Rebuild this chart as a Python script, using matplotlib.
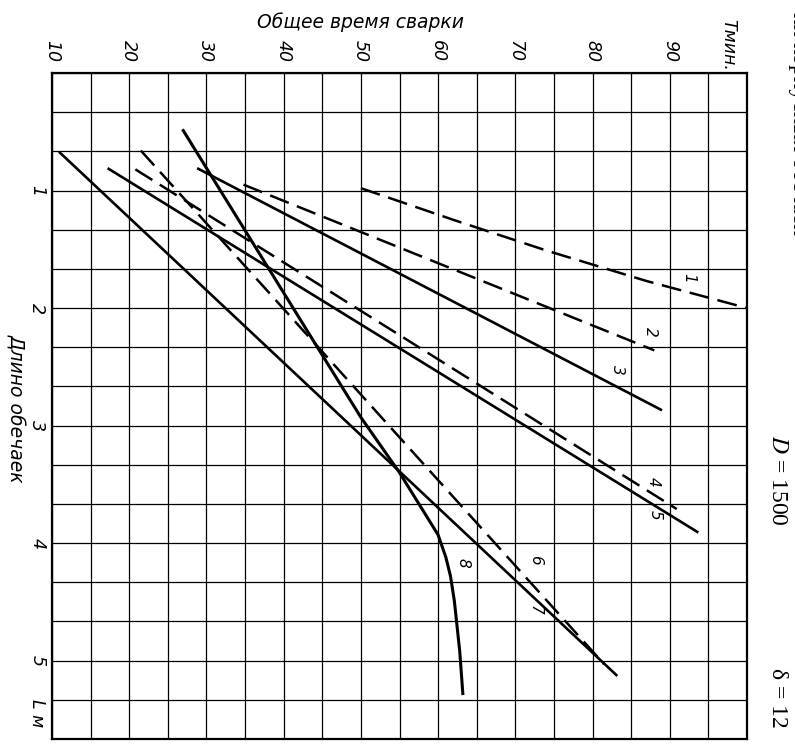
import matplotlib.pyplot as plt
import numpy as np

# шкалы
time_ticks = [10, 20, 30, 40, 50, 60, 70, 80, 90]
length_ticks = [1, 2, 3, 4, 5]

# кривые: общее время сварки T (мин) и длина обечаек L (м)
c1_T = [50, 62, 74, 87, 100]
c1_L = [0.98, 1.25, 1.51, 1.77, 2.0]
c2_T = [34.8, 88]
c2_L = [0.95, 2.36]
c3_T = [28.8, 89]
c3_L = [0.81, 2.87]
c4_T = [20.8, 90.9]
c4_L = [0.82, 3.71]
c5_T = [17.2, 93.7]
c5_L = [0.81, 3.91]
c6_T = [21.5, 81.5]
c6_L = [0.66, 5.03]
c7_T = [10.9, 83.2]
c7_L = [0.67, 5.13]
c8_T = [27, 40, 50, 55, 60, 61, 61.6, 62.1, 62.8, 63.2]
c8_L = [0.49, 1.87, 2.93, 3.4, 3.93, 4.12, 4.28, 4.49, 4.92, 5.28]

curve_names = ['1', '2', '3', '4', '5', '6', '7', '8']
label_T = [92.5, 87.5, 83.2, 87.9, 88.1, 72.6, 72.6, 63.2]
label_L = [1.74, 2.2, 2.53, 3.48, 3.76, 4.14, 4.57, 4.17]

fig = plt.figure(figsize=(7.95, 7.44), dpi=100)
ax = fig.add_axes([52 / 795, 1 - 739 / 744, 695 / 795, 666 / 744])
ax.set_xlim(10, 100)
ax.set_ylim(17 / 3, 0)
ax.set_xticks(np.arange(10, 101, 5))
ax.set_yticks(np.arange(0, 18) / 3)
ax.grid(True, color='black', lw=0.9)
ax.tick_params(length=0, labelbottom=False, labelleft=False)
for s in ax.spines.values():
    s.set_linewidth(1.6)

dashed = dict(color='black', lw=1.8, dashes=(8, 3.5))
solid = dict(color='black', lw=1.9, solid_capstyle='butt')

ax.plot(c1_T, c1_L, **dashed)
ax.plot(c2_T, c2_L, **dashed)
ax.plot(c3_T, c3_L, **solid)
ax.plot(c4_T, c4_L, **dashed)
ax.plot(c5_T, c5_L, **solid)
ax.plot(c6_T, c6_L, **dashed)
ax.plot(c7_T, c7_L, **solid)
ax.plot(c8_T, c8_L, color='black', lw=2.2)

for name, t, l in zip(curve_names, label_T, label_L):
    ax.text(t, l, name, rotation=-90, ha='center', va='center',
            fontsize=11, style='italic')

# подписи шкал
for t in time_ticks:
    ax.text(t, -0.19, str(t), rotation=-90, ha='center', va='center',
            fontsize=12.5, style='italic', clip_on=False)
ax.text(97.6, -0.24, 'Tмин.', rotation=-90, ha='center', va='center',
        fontsize=12.5, style='italic', clip_on=False)
for l in length_ticks:
    ax.text(8.1, l, str(l), rotation=-90, ha='center', va='center',
            fontsize=12.5, style='italic', clip_on=False)
ax.text(8.1, 5.45, 'L м', rotation=-90, ha='center', va='center',
        fontsize=12.5, style='italic', clip_on=False)

ax.text(50, -0.43, 'Общее время сварки', ha='center', va='center',
        fontsize=13.5, style='italic', clip_on=False)
ax.text(5.3, 2.85, 'Длино обечаек', rotation=-90, ha='center', va='center',
        fontsize=13.5, style='italic', clip_on=False)

# пояснения справа
plt.rcParams['mathtext.fontset'] = 'stix'
fig.text(777 / 795, 1 - 480 / 744, '$D$ = 1500', rotation=-90, ha='center',
         va='center', fontsize=17, family='Liberation Serif')
fig.text(777 / 795, 1 - 698 / 744, 'δ = 12', rotation=-90, ha='center',
         va='center', fontsize=17, family='Liberation Serif')
fig.text(788 / 795, 1 - 235 / 744, 'ки корпусных обечаек', rotation=-90,
         ha='left', va='bottom', fontsize=17, family='Liberation Serif')

plt.savefig('out.png', dpi=100)
plt.close()
